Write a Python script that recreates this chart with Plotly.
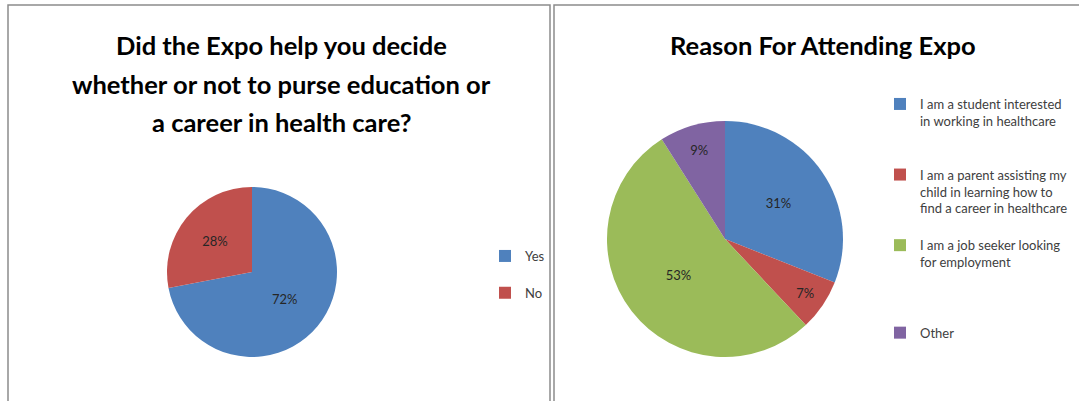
import plotly.graph_objects as go

W, H = 1079, 401

# ---- data ----
decide_title_lines = [
    "Did the Expo help you decide",
    "whether or not to purse education or",
    "a career in health care?",
]
decide_labels = ["Yes<br> ", "No"]
decide_values = [72, 28]

reason_title = "Reason For Attending Expo"
reason_labels = [
    "I am a student interested<br>in working in healthcare<br> <br> ",
    "I am a parent assisting my<br>child in learning how to<br>find a career in healthcare<br> ",
    "I am a job seeker looking<br>for employment<br> <br> <br> ",
    "Other",
]
reason_values = [31, 7, 53, 9]

colors = ["#4F81BD", "#C0504D", "#9BBB59", "#8064A2"]


def fx(p):
    return p / W


def fy(p):
    return 1 - p / H


FONT = "Lato, Calibri, Carlito, sans-serif"

fig = go.Figure()

fig.add_trace(go.Pie(
    labels=decide_labels, values=decide_values,
    marker=dict(colors=colors[:2], line=dict(width=0)),
    sort=False, direction="clockwise", rotation=0,
    textinfo="percent", textposition="inside",
    insidetextorientation="horizontal",
    textfont=dict(family=FONT, size=13, color="#262626"),
    domain=dict(x=[fx(167), fx(337)], y=[fy(358), fy(186)]),
    legend="legend", hoverinfo="skip",
))

fig.add_trace(go.Pie(
    labels=reason_labels, values=reason_values,
    marker=dict(colors=colors, line=dict(width=0)),
    sort=False, direction="clockwise", rotation=0,
    textinfo="percent", textposition="inside",
    insidetextorientation="horizontal",
    textfont=dict(family=FONT, size=13, color="#262626"),
    domain=dict(x=[fx(607), fx(843)], y=[fy(357), fy(121)]),
    legend="legend2", hoverinfo="skip",
))

title_ys = [45, 84, 122]
annotations = [
    dict(text="<b>" + line + "</b>",
         x=fx(281), y=fy(yy), xref="paper", yref="paper",
         xanchor="center", yanchor="middle", showarrow=False,
         font=dict(family=FONT, size=25.5, color="black"))
    for line, yy in zip(decide_title_lines, title_ys)
]
annotations.append(
    dict(text="<b>" + reason_title + "</b>",
         x=fx(823), y=fy(45), xref="paper", yref="paper",
         xanchor="center", yanchor="middle", showarrow=False,
         font=dict(family=FONT, size=25.5, color="black"))
)

fig.update_layout(
    width=W, height=H,
    margin=dict(l=0, r=0, t=0, b=0),
    paper_bgcolor="white", plot_bgcolor="white",
    font=dict(family=FONT, color="#404040"),
    legend=dict(
        x=fx(485), y=fy(241), xanchor="left", yanchor="top",
        font=dict(family=FONT, size=13, color="#404040"),
        bgcolor="rgba(0,0,0,0)", itemclick=False, itemdoubleclick=False,
        valign="top",
    ),
    legend2=dict(
        x=fx(880), y=fy(89), xanchor="left", yanchor="top",
        font=dict(family=FONT, size=13, color="#404040"),
        bgcolor="rgba(0,0,0,0)", itemclick=False, itemdoubleclick=False,
        valign="top",
    ),
    shapes=[
        dict(type="rect", xref="paper", yref="paper",
             x0=fx(8), x1=fx(550), y0=fy(5), y1=fy(430),
             line=dict(color="#8c8c8c", width=1.5)),
        dict(type="rect", xref="paper", yref="paper",
             x0=fx(554), x1=fx(1100), y0=fy(5), y1=fy(430),
             line=dict(color="#8c8c8c", width=1.5)),
    ],
    annotations=annotations,
)

fig.write_html(
    "out.html",
    config={"displayModeBar": False},
    post_script="document.body.style.margin='0';"
                "document.documentElement.style.overflow='hidden';",
)
